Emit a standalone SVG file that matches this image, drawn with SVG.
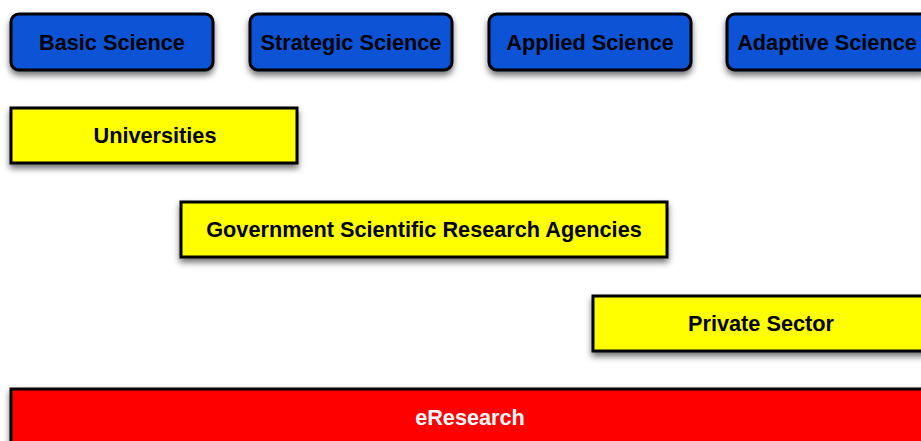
<svg xmlns="http://www.w3.org/2000/svg" width="921" height="441" viewBox="0 0 921 441">
<defs>
<filter id="sh" x="-10%" y="-30%" width="120%" height="170%">
<feDropShadow dx="0" dy="4" stdDeviation="3" flood-color="#000" flood-opacity="0.55"/>
</filter>
<style>
.b{fill:#0b53d6;stroke:#000;stroke-width:3;filter:url(#sh)}
.y{fill:#ffff00;stroke:#000;stroke-width:3;filter:url(#sh)}
.r{fill:#ff0000;stroke:#000;stroke-width:3;filter:url(#sh)}
text{font-family:"Liberation Sans",Arial,sans-serif;font-weight:bold;font-size:21.7px;text-anchor:middle;dominant-baseline:central;fill:#000}
.w{fill:#fff}
</style>
</defs>
<rect width="921" height="441" fill="#fff"/>
<g id="basic"><rect class="b" x="11" y="14" width="202" height="56" rx="8"/><text x="112" y="42">Basic Science</text></g>
<g id="strategic"><rect class="b" x="250" y="14" width="202" height="56" rx="8"/><text x="351" y="42">Strategic Science</text></g>
<g id="applied"><rect class="b" x="489" y="14" width="202" height="56" rx="8"/><text x="590" y="42">Applied Science</text></g>
<g id="adaptive"><rect class="b" x="727" y="14" width="202" height="56" rx="8"/><text x="827" y="42">Adaptive Science</text></g>
<g id="universities"><rect class="y" x="11" y="108" width="286" height="55"/><text x="155" y="135">Universities</text></g>
<g id="government"><rect class="y" x="181" y="202" width="486" height="55"/><text x="424" y="229">Government Scientific Research Agencies</text></g>
<g id="private"><rect class="y" x="593" y="296" width="336" height="55"/><text x="761" y="323">Private Sector</text></g>
<g id="eresearch"><rect class="r" x="11" y="389" width="920" height="60"/><text class="w" x="470" y="417">eResearch</text></g>
<g id="connectors"></g>
</svg>
